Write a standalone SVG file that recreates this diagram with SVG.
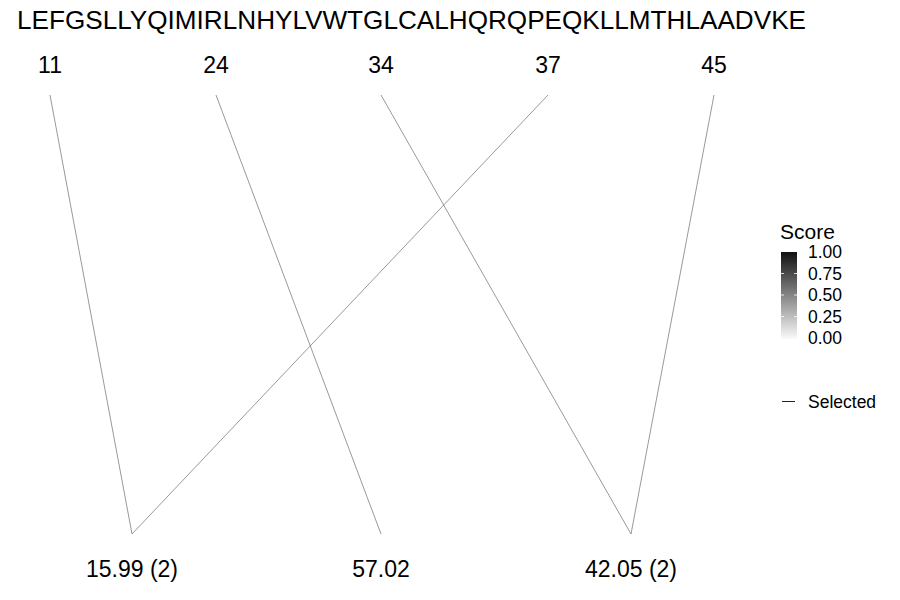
<svg xmlns="http://www.w3.org/2000/svg" width="900" height="600" viewBox="0 0 900 600">
<style>
text{font-family:"Liberation Sans",Arial,sans-serif;fill:#000}
.seq{font-size:26px}
.lab{font-size:23px;text-anchor:middle}
.leg{font-size:17.5px}
.link{stroke:#7f7f7f;stroke-width:0.8;fill:none}
.tick{stroke:#fff;stroke-width:0.8}
</style>
<defs>
<linearGradient id="g" x1="0" y1="0" x2="0" y2="1">
<stop offset="0" stop-color="#111"/>
<stop offset="1" stop-color="#fafafa"/>
</linearGradient>
</defs>
<rect width="900" height="600" fill="#fff"/>
<g id="sequence"><text class="seq" x="17" y="29" textLength="789" lengthAdjust="spacingAndGlyphs">LEFGSLLYQIMIRLNHYLVWTGLCALHQRQPEQKLLMTHLAADVKE</text></g>
<g id="top-labels">
<text class="lab" x="50" y="73">11</text>
<text class="lab" x="216" y="73">24</text>
<text class="lab" x="381" y="73">34</text>
<text class="lab" x="548" y="73">37</text>
<text class="lab" x="714" y="73">45</text>
</g>
<g id="bottom-labels">
<text class="lab" x="132" y="577">15.99 (2)</text>
<text class="lab" x="381" y="577">57.02</text>
<text class="lab" x="631" y="577">42.05 (2)</text>
</g>
<g id="connectors">
<line class="link" x1="50" y1="95" x2="132" y2="534"/>
<line class="link" x1="216" y1="95" x2="381" y2="534"/>
<line class="link" x1="381" y1="95" x2="631" y2="534"/>
<line class="link" x1="548" y1="95" x2="132" y2="534"/>
<line class="link" x1="714" y1="95" x2="631" y2="534"/>
</g>
<g id="legend">
<text x="780" y="239" style="font-size:21px">Score</text>
<rect x="781" y="252" width="16" height="87" fill="url(#g)"/>
<line class="tick" x1="781" y1="273.5" x2="784" y2="273.5"/><line class="tick" x1="794" y1="273.5" x2="797" y2="273.5"/>
<line class="tick" x1="781" y1="295" x2="784" y2="295"/><line class="tick" x1="794" y1="295" x2="797" y2="295"/>
<line class="tick" x1="781" y1="316.5" x2="784" y2="316.5"/><line class="tick" x1="794" y1="316.5" x2="797" y2="316.5"/>
<text class="leg" x="808" y="258">1.00</text>
<text class="leg" x="808" y="280">0.75</text>
<text class="leg" x="808" y="301">0.50</text>
<text class="leg" x="808" y="323">0.25</text>
<text class="leg" x="808" y="344">0.00</text>
<line x1="782" y1="401.5" x2="795" y2="401.5" stroke="#222" stroke-width="1"/>
<text class="leg" x="808" y="408">Selected</text>
</g>
</svg>
